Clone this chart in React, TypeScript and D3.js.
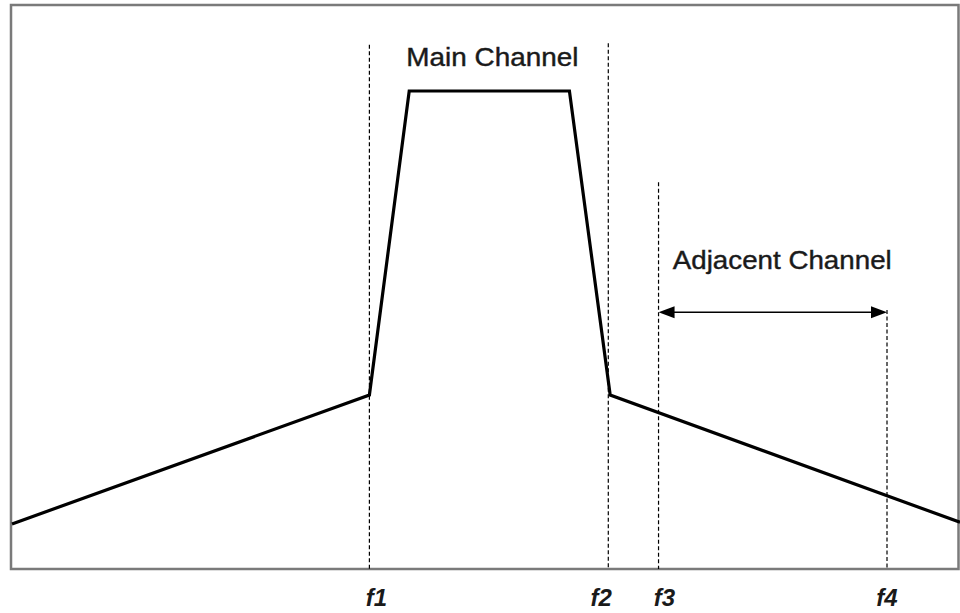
import React from "react";
import * as d3 from "d3";

// Spectrum outline (frequency in arbitrary units 0..100, level in arbitrary units 0..100)
const spectrumX = [0, 37.7, 41.9, 58.8, 63.1, 100];
const spectrumY = [8.0, 30.9, 84.9, 84.9, 30.9, 8.3];

// Marker frequencies and how high their dashed guides reach
const markerNames = ["f1", "f2", "f3", "f4"];
const markerX = [37.7, 62.9, 68.2, 92.3];
const markerTop = [93.1, 93.4, 68.7, 46.0];
const markerLabelDx = [7, -7, 6, 0];

// Annotations
const mainLabel = "Main Channel";
const mainLabelPos = [41.6, 89.3];
const adjLabel = "Adjacent Channel";
const adjLabelPos = [69.7, 53.3];
const arrowFrom = 68.2;
const arrowTo = 92.3;
const arrowLevel = 45.6;

const W = 960;
const H = 613;
const left = 12;
const right = 960;
const top = 6;
const bottom = 569;

export default function App() {
  const x = d3.scaleLinear().domain([0, 100]).range([left, right]);
  const y = d3.scaleLinear().domain([0, 100]).range([bottom, top]);

  const pts: [number, number][] = spectrumX.map((v, i) => [v, spectrumY[i]]);
  const line = d3
    .line<[number, number]>()
    .x((d) => x(d[0]))
    .y((d) => y(d[1]));

  const ax1 = x(arrowFrom);
  const ax2 = x(arrowTo);
  const ay = y(arrowLevel);
  const aLen = 16;
  const aHalf = 6;

  return (
    <svg
      width={W}
      height={H}
      style={{ position: "absolute", left: 0, top: 0, background: "#fff" }}
      fontFamily="'Liberation Sans', Arial, sans-serif"
    >
      <rect x={0} y={0} width={W} height={H} fill="#fff" />
      {/* frame */}
      <rect
        x={11}
        y={5}
        width={947.5}
        height={564}
        fill="none"
        stroke="#7a7a7a"
        strokeWidth={2.5}
      />
      {/* dashed guides */}
      {markerX.map((m, i) => (
        <line
          key={markerNames[i]}
          x1={x(m)}
          x2={x(m)}
          y1={y(markerTop[i])}
          y2={y(0)}
          stroke="#000"
          strokeWidth={1.2}
          strokeDasharray="4,2.5"
        />
      ))}
      {/* spectrum */}
      <path
        d={line(pts) ?? ""}
        fill="none"
        stroke="#000"
        strokeWidth={3.2}
        strokeLinejoin="miter"
      />
      {/* arrow */}
      <line x1={ax1 + aLen - 2} x2={ax2 - aLen + 2} y1={ay} y2={ay} stroke="#000" strokeWidth={1.6} />
      <path
        d={`M${ax1},${ay} L${ax1 + aLen},${ay - aHalf} L${ax1 + aLen},${ay + aHalf} Z`}
        fill="#000"
      />
      <path
        d={`M${ax2},${ay} L${ax2 - aLen},${ay - aHalf} L${ax2 - aLen},${ay + aHalf} Z`}
        fill="#000"
      />
      {/* labels */}
      <text
        x={x(mainLabelPos[0])}
        y={y(mainLabelPos[1])}
        fontSize={25}
        fill="#1a1a1a"
        stroke="#1a1a1a"
        strokeWidth={0.4}
        textLength={172}
        lengthAdjust="spacingAndGlyphs"
      >
        {mainLabel}
      </text>
      <text
        x={x(adjLabelPos[0])}
        y={y(adjLabelPos[1])}
        fontSize={25}
        fill="#1a1a1a"
        stroke="#1a1a1a"
        strokeWidth={0.4}
        textLength={219}
        lengthAdjust="spacingAndGlyphs"
      >
        {adjLabel}
      </text>
      {markerNames.map((n, i) => (
        <text
          key={n}
          x={x(markerX[i]) + markerLabelDx[i]}
          y={606}
          fontSize={24}
          fontStyle="italic"
          fontWeight="bold"
          textAnchor="middle"
          fill="#1a1a1a"
        >
          {n}
        </text>
      ))}
    </svg>
  );
}
